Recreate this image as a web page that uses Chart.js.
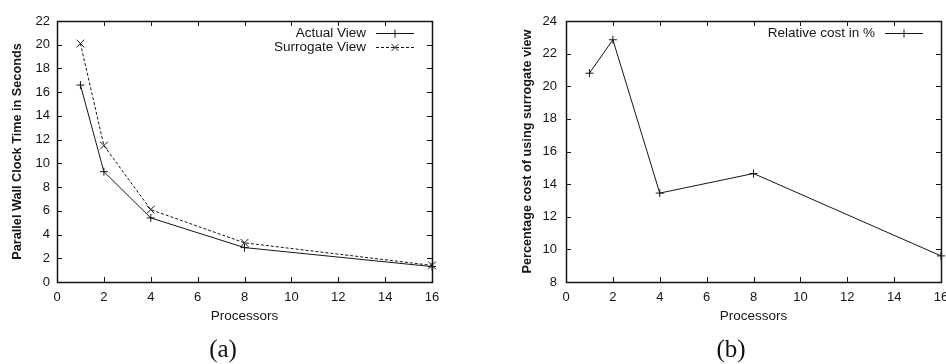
<!DOCTYPE html>
<html>
<head>
<meta charset="utf-8">
<script src="https://cdn.jsdelivr.net/npm/chart.js@4/dist/chart.umd.min.js"></script>
<style>
  html, body { margin: 0; padding: 0; background: #fff; }
  body { width: 946px; height: 364px; position: relative; overflow: hidden; }
  .panel { position: absolute; top: 0; height: 364px; }
  #left { left: 0; width: 473px; }
  #right { left: 473px; width: 510px; }
  canvas { display: block; }
  .caption {
    position: absolute; top: 334px; width: 80px; margin-left: -40px;
    text-align: center; font-family: "Liberation Serif", serif; font-size: 25px;
    line-height: 30px; color: #111;
  }
</style>
</head>
<body>
<div class="panel" id="left"><canvas id="timeChart" width="473" height="364"></canvas></div>
<div class="panel" id="right"><canvas id="costChart" width="510" height="364"></canvas></div>
<div class="caption" style="left:223px">(a)</div>
<div class="caption" style="left:731px">(b)</div>
<script>
// Processor counts on the x axis
const processors = [1, 2, 4, 8, 16];
// Wall clock time (seconds) for each view
const actualView = [16.6, 9.3, 5.4, 2.9, 1.3];
const surrogateView = [20.1, 11.5, 6.1, 3.3, 1.4];
// Relative cost of the surrogate view, percent
const relativeCost = [20.8, 22.85, 13.45, 14.65, 9.6];

// Tick values
const xTicks = [0, 2, 4, 6, 8, 10, 12, 14, 16];
const timeTicks = [0, 2, 4, 6, 8, 10, 12, 14, 16, 18, 20, 22];
const costTicks = [8, 10, 12, 14, 16, 18, 20, 22, 24];

const INK = '#151515';
const SANS = '"Liberation Sans", Arial, sans-serif';

const toPoints = (xs, ys) => xs.map((x, i) => ({ x, y: ys[i] }));

// Boxed frame with inward ticks on all four sides
const framePlugin = {
  id: 'frame',
  afterDatasetsDraw(chart) {
    const { ctx, chartArea: a, scales: { x, y } } = chart;
    const len = 5;
    ctx.save();
    ctx.strokeStyle = INK;
    ctx.lineWidth = 1;
    ctx.beginPath();
    x.ticks.forEach(t => {
      const px = Math.round(x.getPixelForValue(t.value)) + 0.5;
      ctx.moveTo(px, a.bottom); ctx.lineTo(px, a.bottom - len);
      ctx.moveTo(px, a.top); ctx.lineTo(px, a.top + len);
    });
    y.ticks.forEach(t => {
      const py = Math.round(y.getPixelForValue(t.value)) + 0.5;
      ctx.moveTo(a.left, py); ctx.lineTo(a.left + len, py);
      ctx.moveTo(a.right, py); ctx.lineTo(a.right - len, py);
    });
    ctx.stroke();
    ctx.lineWidth = 1.5;
    ctx.strokeRect(Math.round(a.left) + 0.5, Math.round(a.top) + 0.5,
      Math.round(a.right - a.left), Math.round(a.bottom - a.top));
    ctx.restore();
  }
};

function drawMarker(ctx, style, cx, cy, r) {
  ctx.beginPath();
  if (style === 'crossRot') {
    const d = r * 0.85;
    ctx.moveTo(cx - d, cy - d); ctx.lineTo(cx + d, cy + d);
    ctx.moveTo(cx - d, cy + d); ctx.lineTo(cx + d, cy - d);
  } else {
    ctx.moveTo(cx - r, cy); ctx.lineTo(cx + r, cy);
    ctx.moveTo(cx, cy - r); ctx.lineTo(cx, cy + r);
  }
  ctx.stroke();
}

// Key in the top-right corner: label, then a line sample with its marker
const keyPlugin = {
  id: 'key',
  afterDraw(chart) {
    const { ctx, chartArea: a } = chart;
    ctx.save();
    ctx.font = '13.5px ' + SANS;
    ctx.fillStyle = INK;
    ctx.strokeStyle = INK;
    ctx.lineWidth = 1;
    ctx.textAlign = 'right';
    ctx.textBaseline = 'middle';
    chart.data.datasets.forEach((ds, i) => {
      const yy = a.top + 12 + i * 14;
      const sampleEnd = a.right - 18;
      const sampleStart = sampleEnd - 38;
      ctx.fillText(ds.label, sampleStart - 10, yy);
      ctx.setLineDash(ds.borderDash || []);
      ctx.beginPath();
      ctx.moveTo(sampleStart, yy + 0.5); ctx.lineTo(sampleEnd, yy + 0.5);
      ctx.stroke();
      ctx.setLineDash([]);
      drawMarker(ctx, ds.pointStyle, (sampleStart + sampleEnd) / 2, yy + 0.5, 4);
    });
    ctx.restore();
  }
};

function makeOptions(yTicks, yTitle, yTitlePad, yWidth, padLeft, padRight, labelPad) {
  return {
    responsive: false,
    animation: false,
    layout: { padding: { left: padLeft, right: padRight, top: 21, bottom: 37 } },
    plugins: { legend: { display: false }, tooltip: { enabled: false } },
    scales: {
      x: {
        type: 'linear',
        min: xTicks[0], max: xTicks[xTicks.length - 1],
        afterBuildTicks: s => { s.ticks = xTicks.map(v => ({ value: v })); },
        afterFit: s => { s.height = 45; },
        grid: { display: false, drawTicks: false },
        border: { display: false },
        ticks: { padding: 8, color: INK, font: { family: SANS, size: 13 }, maxRotation: 0 },
        title: { display: true, text: 'Processors', color: INK, padding: { top: 0, bottom: 3 },
          font: { family: SANS, size: 13.5 } }
      },
      y: {
        type: 'linear',
        min: yTicks[0], max: yTicks[yTicks.length - 1],
        afterBuildTicks: s => { s.ticks = yTicks.map(v => ({ value: v })); },
        afterFit: s => { s.width = yWidth; },
        grid: { display: false, drawTicks: false },
        border: { display: false },
        ticks: { padding: labelPad, color: INK, font: { family: SANS, size: 13 } },
        title: { display: true, text: yTitle, color: INK, padding: { top: yTitlePad, bottom: 0 },
          font: { family: SANS, size: 12.7, weight: 'bold' } }
      }
    }
  };
}

const lineStyle = {
  borderColor: INK, backgroundColor: INK, borderWidth: 1,
  pointRadius: 4, pointBorderWidth: 1, pointBorderColor: INK,
  tension: 0, fill: false, clip: false
};

new Chart(document.getElementById('timeChart'), {
  type: 'line',
  data: {
    datasets: [
      Object.assign({}, lineStyle, { label: 'Actual View', data: toPoints(processors, actualView),
        pointStyle: 'cross' }),
      Object.assign({}, lineStyle, { label: 'Surrogate View', data: toPoints(processors, surrogateView),
        pointStyle: 'crossRot', pointRadius: 5.5, borderDash: [3, 2] })
    ]
  },
  options: makeOptions(timeTicks, 'Parallel Wall Clock Time in Seconds', 9.5, 57, 0, 41, 7),
  plugins: [framePlugin, keyPlugin]
});

new Chart(document.getElementById('costChart'), {
  type: 'line',
  data: {
    datasets: [
      Object.assign({}, lineStyle, { label: 'Relative cost in %', data: toPoints(processors, relativeCost),
        pointStyle: 'cross' })
    ]
  },
  options: makeOptions(costTicks, 'Percentage cost of using surrogate view', 6.5, 53, 40, 42, 9),
  plugins: [framePlugin, keyPlugin]
});
</script>
</body>
</html>
